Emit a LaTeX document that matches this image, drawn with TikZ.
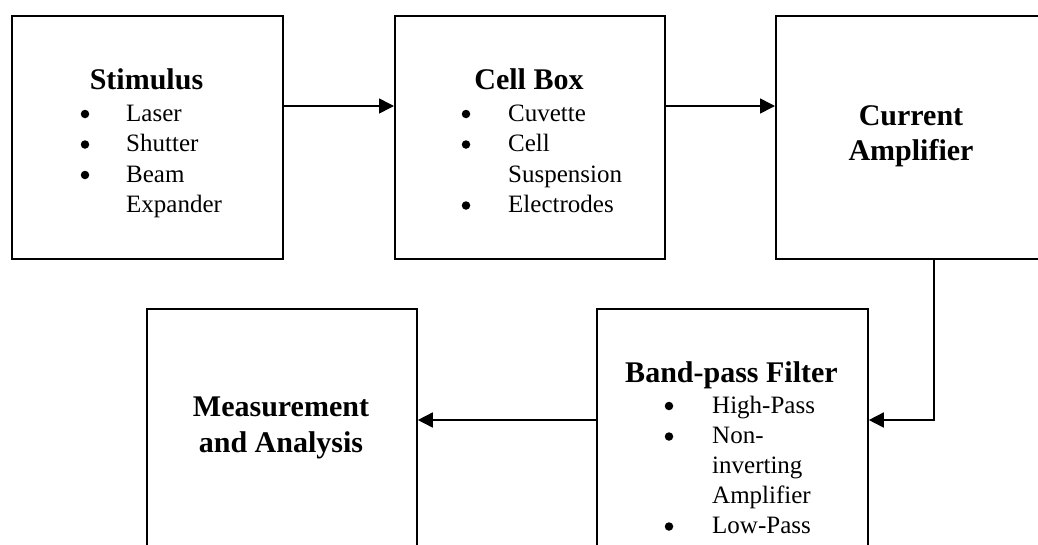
\documentclass[tikz,border=0pt]{standalone}
\usepackage{fontspec}
\setmainfont{Liberation Serif}
\usetikzlibrary{arrows.meta}
\tikzset{
  blk/.style={draw, line width=1.8pt, rectangle, inner sep=0pt, minimum width=271pt, minimum height=243pt, anchor=north west},
  ttl/.style={anchor=base, inner sep=0pt, font=\fontsize{30}{35}\selectfont\bfseries, align=center},
  itm/.style={anchor=base west, inner sep=0pt, font=\fontsize{25}{30}\selectfont},
  bul/.style={circle, fill=black, inner sep=0pt, minimum size=8.5pt},
  conn/.style={line width=1.6pt, -{Triangle[length=15pt,width=15pt]}}
}
\begin{document}
\begin{tikzpicture}[x=1pt,y=-1pt]
\useasboundingbox (0,0) rectangle (1038,544);
\clip (0,0) rectangle (1038,544);
% boxes
\node[blk] (stim) at (11,15) {};
\node[blk, minimum width=270pt] (cell) at (394,15) {};
\node[blk, minimum width=272pt] (cur) at (775,15) {};
\node[blk] (band) at (596,308) {};
\node[blk, minimum width=270pt] (meas) at (146,308) {};
% Stimulus text
\node[ttl] (t1) at (146.5,89) {Stimulus};
\node[bul] (b11) at (85,114) {};
\node[itm] (i11) at (126,121) {Laser};
\node[bul] (b12) at (85,144.5) {};
\node[itm] (i12) at (126,151.5) {Shutter};
\node[bul] (b13) at (85,175) {};
\node[itm] (i13) at (126,182) {Beam};
\node[itm] (i14) at (126,212.5) {Expander};
% Cell box text
\node[ttl] (t2) at (529,89) {Cell Box};
\node[bul] (b21) at (466,114) {};
\node[itm] (i21) at (508,121) {Cuvette};
\node[bul] (b22) at (466,144.5) {};
\node[itm] (i22) at (508,151.5) {Cell};
\node[itm] (i23) at (508,182) {Suspension};
\node[bul] (b24) at (466,205.5) {};
\node[itm] (i24) at (508,212.5) {Electrodes};
% Current amplifier
\node[ttl] (t3a) at (911,125) {Current};
\node[ttl] (t3b) at (911,160) {Amplifier};
% Band-pass text
\node[ttl] (t4) at (731.5,382) {Band-pass Filter};
\node[bul] (b41) at (669,406) {};
\node[itm] (i41) at (712,413) {High-Pass};
\node[bul] (b42) at (669,436.5) {};
\node[itm] (i42) at (712,443.5) {Non-};
\node[itm] (i43) at (712,473) {inverting};
\node[itm] (i44) at (712,503) {Amplifier};
\node[bul] (b45) at (669,526.5) {};
\node[itm] (i45) at (712,533.5) {Low-Pass};
% Measurement
\node[ttl] (t5a) at (281,416) {Measurement};
\node[ttl] (t5b) at (281,452) {and Analysis};
% connectors
\draw[conn] ([yshift=-91pt]stim.north east) -- ([yshift=-91pt]cell.north west);
\draw[conn] ([yshift=-91pt]cell.north east) -- ([yshift=-91pt]cur.north west);
\draw[conn] ([xshift=22pt]cur.south) |- ([yshift=-112pt]band.north east);
\draw[conn] ([yshift=-112pt]band.north west) -- ([yshift=-112pt]meas.north east);
\end{tikzpicture}
\end{document}
